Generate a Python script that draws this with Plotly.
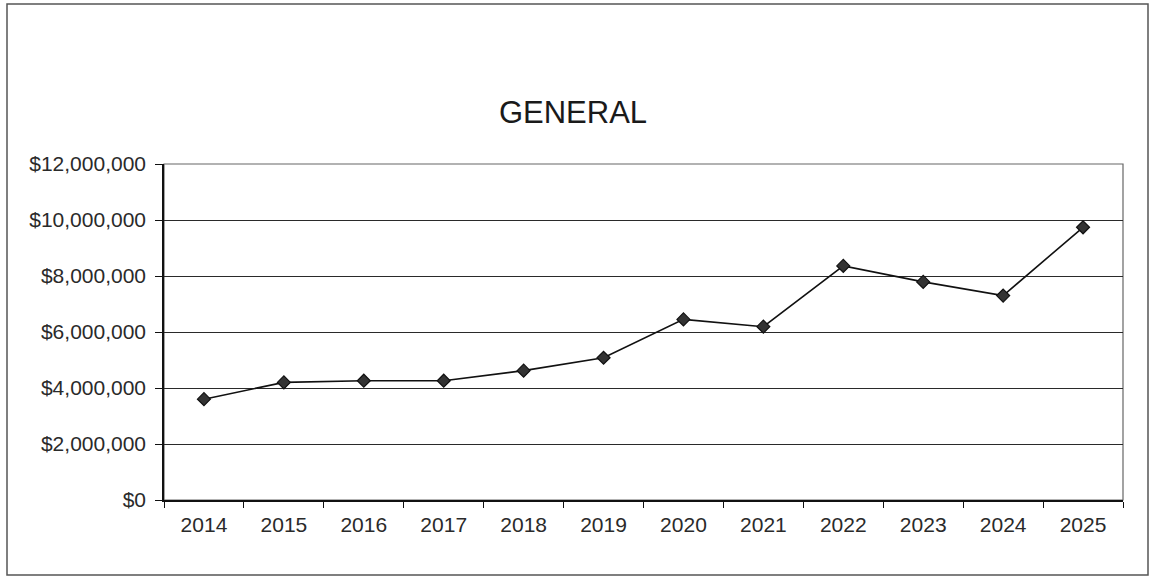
import plotly.graph_objects as go

# Annual general-fund totals
years = ["2014", "2015", "2016", "2017", "2018", "2019",
         "2020", "2021", "2022", "2023", "2024", "2025"]
amounts = [3600000, 4200000, 4260000, 4260000, 4620000, 5080000,
           6450000, 6190000, 8360000, 7790000, 7300000, 9740000]

y_ticks = [0, 2000000, 4000000, 6000000, 8000000, 10000000, 12000000]
y_tick_labels = ["$0", "$2,000,000", "$4,000,000", "$6,000,000",
                 "$8,000,000", "$10,000,000", "$12,000,000"]

W, H = 1151, 579
L, R, T, B = 164, 28, 164, 79
pw, ph = W - L - R, H - T - B

def px_to_paper_x(px):
    return (px - L) / pw

def px_to_paper_y(py):
    return (H - B - py) / ph

fig = go.Figure()
fig.add_trace(go.Scatter(
    x=years, y=amounts, mode="lines+markers",
    line=dict(color="#111111", width=1.6),
    marker=dict(symbol="diamond", size=10, color="#333333",
                line=dict(color="#111111", width=1.2)),
    showlegend=False, hoverinfo="x+y",
))

font_family = "Liberation Sans, Arial, sans-serif"

fig.update_layout(
    width=W, height=H,
    margin=dict(l=L, r=R, t=T, b=B),
    paper_bgcolor="white", plot_bgcolor="white",
    font=dict(family=font_family, color="#2a2a2a", size=21),
    title=dict(text="GENERAL", x=573 / W, xref="container", xanchor="center",
               y=1 - 112 / H, yref="container", yanchor="middle",
               font=dict(family=font_family, size=31, color="#1a1a1a")),
    xaxis=dict(
        type="category", range=[-0.5, 11.5],
        showline=True, linecolor="#111111", linewidth=1.5,
        ticks="outside", tickson="boundaries", ticklen=6, tickcolor="#111111",
        tickwidth=1.2, showgrid=False, zeroline=False,
        ticklabelstandoff=5,
        tickfont=dict(size=21, color="#2a2a2a"),
    ),
    yaxis=dict(
        range=[0, 12000000], tickvals=y_ticks, ticktext=y_tick_labels,
        showline=True, linecolor="#111111", linewidth=1.5,
        ticks="outside", ticklen=7, tickcolor="#111111", tickwidth=1.2,
        showgrid=True, gridcolor="#2a2a2a", gridwidth=1.2, zeroline=False,
        ticklabelstandoff=5,
        tickfont=dict(size=21, color="#2a2a2a"),
    ),
    shapes=[
        # plot-area frame (right side shows in grey)
        dict(type="rect", xref="paper", yref="paper", x0=0, x1=1, y0=0, y1=1,
             line=dict(color="#666666", width=1.2), layer="below"),
        # outer chart border
        dict(type="rect", xref="paper", yref="paper",
             x0=px_to_paper_x(7), x1=px_to_paper_x(1148),
             y0=px_to_paper_y(575), y1=px_to_paper_y(4),
             line=dict(color="#555555", width=1.5), layer="below"),
    ],
)

fig.write_html("out.html")
